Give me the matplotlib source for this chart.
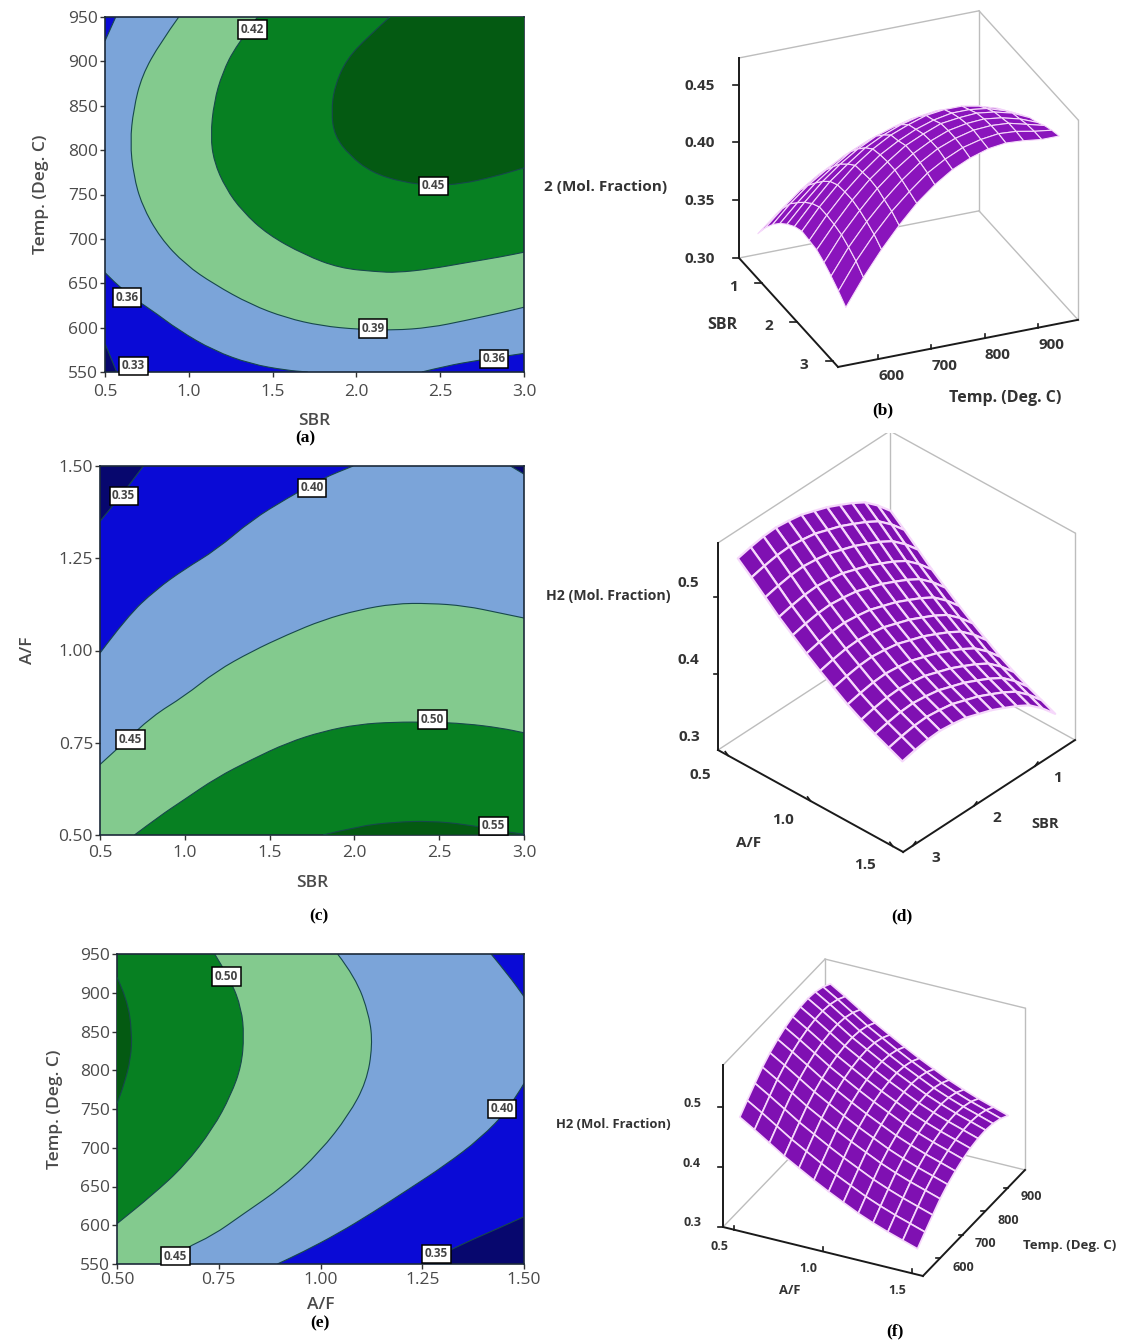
import numpy as np
import matplotlib
matplotlib.use('Agg')
import matplotlib.pyplot as plt
from matplotlib.lines import Line2D
from matplotlib.patches import PathPatch
from matplotlib.path import Path
from mpl_toolkits.mplot3d import proj3d

W, H = 1121, 1344

# contour colours, low to high
NAVY = '#07076e'
BLUE = '#0a0ad6'
SKY = '#7ba4d9'
MINT = '#83ca8e'
GREEN = '#078022'
DARK = '#045a12'
LINE = '#17484c'

# (a) Temp vs SBR, level boundaries
A_033 = [(0.50, 582), (0.57, 550)]
A_036L = [(0.50, 662), (0.62, 639), (0.77, 621), (0.94, 597), (1.15, 574), (1.37, 559), (1.58, 552), (1.71, 550)]
A_036R = [(2.39, 550), (2.54, 557), (2.72, 563), (3.00, 571)]
A_036T = [(0.50, 923), (0.564, 950)]
A_039 = [(0.94, 950), (0.83, 921), (0.72, 884), (0.67, 846), (0.65, 809), (0.67, 772), (0.72, 738), (0.83, 701),
         (0.98, 671), (1.15, 649), (1.37, 626), (1.58, 611), (1.79, 602), (2.01, 598), (2.22, 597), (2.44, 600),
         (2.65, 608), (2.87, 617), (3.00, 623)]
A_042 = [(1.41, 950), (1.28, 917), (1.20, 887), (1.15, 854), (1.13, 816), (1.15, 787), (1.22, 757), (1.32, 731),
         (1.47, 705), (1.69, 682), (1.90, 667), (2.12, 663), (2.24, 662), (2.44, 666), (2.65, 673), (2.87, 680),
         (3.00, 685)]
A_045 = [(2.20, 950), (2.07, 928), (1.94, 902), (1.87, 872), (1.85, 843), (1.87, 816), (1.96, 794), (2.09, 775),
         (2.27, 764), (2.46, 760), (2.63, 762), (2.82, 770), (3.00, 780)]
A_LABELS = [(1.38, 936, '0.42'), (2.46, 760, '0.45'), (2.10, 599, '0.39'), (0.63, 634, '0.36'), (0.67, 557, '0.33'),
            (2.82, 565, '0.36')]

# (c) A/F vs SBR
C_035 = [(0.50, 1.35), (0.62, 1.417), (0.756, 1.50)]
C_035R = [(2.92, 1.50), (3.00, 1.478)]
C_040 = [(0.50, 0.993), (0.66, 1.092), (0.83, 1.165), (0.997, 1.22), (1.186, 1.273), (1.396, 1.354), (1.605, 1.413),
         (1.815, 1.467), (1.993, 1.50)]
C_045 = [(0.50, 0.691), (0.62, 0.741), (0.808, 0.822), (0.997, 0.876), (1.186, 0.944), (1.396, 0.998), (1.605, 1.043),
         (1.815, 1.083), (2.025, 1.11), (2.235, 1.127), (2.445, 1.128), (2.654, 1.121), (2.864, 1.101), (3.00, 1.088)]
C_050 = [(0.703, 0.50), (0.85, 0.551), (0.997, 0.596), (1.186, 0.655), (1.396, 0.705), (1.605, 0.75), (1.815, 0.781),
         (2.025, 0.80), (2.235, 0.806), (2.445, 0.806), (2.654, 0.802), (2.864, 0.79), (3.00, 0.777)]
C_055 = [(1.815, 0.50), (2.025, 0.524), (2.235, 0.535), (2.445, 0.538), (2.654, 0.529), (2.864, 0.511), (3.00, 0.502)]
C_LABELS = [(0.64, 1.419, '0.35'), (1.75, 1.441, '0.40'), (0.68, 0.759, '0.45'), (2.46, 0.813, '0.50'),
            (2.82, 0.525, '0.55')]

# (e) Temp vs A/F
E_055 = [(0.50, 920), (0.525, 892), (0.537, 849), (0.534, 815), (0.517, 781), (0.50, 757)]
E_050 = [(0.74, 950), (0.78, 916), (0.806, 879), (0.812, 845), (0.806, 806), (0.78, 768), (0.736, 725), (0.666, 677),
         (0.587, 639), (0.50, 602)]
E_045 = [(1.042, 950), (1.086, 920), (1.12, 871), (1.128, 832), (1.113, 785), (1.069, 742), (0.999, 695), (0.911, 651),
         (0.806, 613), (0.736, 587), (0.666, 570), (0.62, 550)]
E_040T = [(1.419, 950), (1.463, 922), (1.50, 895)]
E_040B = [(1.50, 783), (1.463, 750), (1.393, 712), (1.305, 677), (1.218, 647), (1.13, 617), (1.042, 589), (0.955, 565),
          (0.894, 550)]
E_035 = [(1.50, 611), (1.437, 596), (1.349, 576), (1.25, 550)]
E_LABELS = [(0.769, 921, '0.50'), (0.644, 560, '0.45'), (1.446, 750, '0.40'), (1.285, 563, '0.35')]

# surface grids
T_GRID = [550, 583, 617, 650, 683, 717, 750, 783, 817, 850, 883, 917, 950]
SBR_GRID = [0.5, 0.71, 0.92, 1.13, 1.33, 1.54, 1.75, 1.96, 2.17, 2.38, 2.58, 2.79, 3.0]
AF_GRID = [0.5, 0.583, 0.667, 0.75, 0.833, 0.917, 1.0, 1.083, 1.167, 1.25, 1.333, 1.417, 1.5]

# (b) rows SBR, columns Temp
Z_B = [
    [.324, .337, .349, .359, .366, .372, .376, .378, .378, .376, .372, .366, .359],
    [.336, .350, .363, .373, .381, .387, .391, .394, .394, .392, .389, .383, .375],
    [.346, .361, .374, .384, .393, .400, .405, .407, .408, .407, .403, .398, .390],
    [.354, .369, .383, .394, .404, .411, .416, .419, .420, .419, .416, .410, .403],
    [.360, .376, .391, .403, .413, .421, .426, .430, .431, .430, .427, .422, .415],
    [.365, .382, .398, .410, .421, .429, .435, .439, .441, .440, .438, .433, .425],
    [.368, .386, .402, .416, .427, .436, .442, .447, .449, .449, .446, .441, .434],
    [.367, .386, .403, .417, .429, .438, .445, .450, .453, .453, .451, .446, .439],
    [.366, .385, .403, .418, .430, .441, .448, .454, .456, .457, .455, .451, .444],
    [.362, .383, .401, .417, .430, .441, .449, .455, .458, .459, .457, .453, .447],
    [.357, .379, .398, .414, .428, .440, .449, .455, .459, .460, .459, .455, .451],
    [.351, .374, .394, .411, .425, .438, .447, .454, .458, .460, .459, .456, .454],
    [.344, .367, .388, .406, .422, .435, .445, .452, .457, .459, .458, .456, .456],
]

# (d) rows SBR, columns A/F
Z_D = [
    [.482, .467, .451, .435, .421, .407, .394, .382, .370, .360, .351, .343, .335],
    [.500, .485, .469, .453, .439, .425, .412, .400, .388, .378, .369, .361, .353],
    [.515, .500, .484, .468, .454, .440, .427, .415, .403, .393, .384, .376, .368],
    [.525, .510, .494, .478, .464, .450, .437, .425, .413, .403, .394, .386, .378],
    [.533, .518, .502, .486, .472, .458, .445, .433, .421, .411, .402, .394, .386],
    [.541, .526, .510, .494, .480, .466, .453, .441, .429, .419, .410, .402, .394],
    [.547, .532, .516, .500, .486, .472, .459, .447, .435, .425, .416, .408, .400],
    [.553, .538, .522, .506, .492, .478, .465, .453, .441, .431, .422, .414, .406],
    [.556, .541, .525, .509, .495, .481, .468, .456, .444, .434, .425, .417, .409],
    [.558, .543, .527, .511, .497, .483, .470, .458, .446, .436, .427, .419, .411],
    [.557, .542, .526, .510, .496, .482, .469, .457, .445, .435, .426, .418, .410],
    [.554, .539, .523, .507, .493, .479, .466, .454, .442, .432, .423, .415, .407],
    [.550, .535, .519, .503, .489, .475, .462, .450, .438, .428, .419, .411, .403],
]

# (f) rows Temp, columns A/F
Z_F = [
    [.478, .463, .447, .431, .417, .403, .390, .378, .366, .356, .347, .339, .331],
    [.493, .478, .462, .446, .432, .418, .405, .393, .381, .371, .362, .354, .346],
    [.508, .493, .477, .461, .447, .433, .420, .408, .396, .386, .377, .369, .361],
    [.522, .507, .491, .475, .461, .447, .434, .422, .410, .400, .391, .383, .375],
    [.533, .518, .502, .486, .472, .458, .445, .433, .421, .411, .402, .394, .386],
    [.542, .527, .511, .495, .481, .467, .454, .442, .430, .420, .411, .403, .395],
    [.549, .534, .518, .502, .488, .474, .461, .449, .437, .427, .418, .410, .402],
    [.554, .539, .523, .507, .493, .479, .466, .454, .442, .432, .423, .415, .407],
    [.557, .542, .526, .510, .496, .482, .469, .457, .445, .435, .426, .418, .410],
    [.558, .543, .527, .511, .497, .483, .470, .458, .446, .436, .427, .419, .411],
    [.556, .541, .525, .509, .495, .481, .468, .456, .444, .434, .425, .417, .409],
    [.551, .536, .520, .504, .490, .476, .463, .451, .439, .429, .420, .412, .404],
    [.543, .528, .512, .496, .482, .468, .455, .443, .431, .421, .412, .404, .396],
]

SANS = ['Open Sans', 'DejaVu Sans']
plt.rcParams['font.family'] = SANS

fig = plt.figure(figsize=(W / 100, H / 100), dpi=100)


def px_text(x, y, s, **kw):
    kw.setdefault('ha', 'center')
    kw.setdefault('va', 'center')
    fig.text(x / W, 1 - y / H, s, **kw)


def contour_axes(left, top, right, bottom):
    ax = fig.add_axes([left / W, 1 - bottom / H, (right - left) / W, (bottom - top) / H])
    ax.set_facecolor(SKY)
    return ax


def curve(pts):
    # quadratic pieces with the read points as controls, so the boundary has no kinks
    verts = [pts[0]]
    codes = [Path.MOVETO]
    for p, q in zip(pts[1:-1], pts[2:]):
        mid = ((p[0] + q[0]) / 2, (p[1] + q[1]) / 2)
        verts += [p, mid]
        codes += [Path.CURVE3, Path.CURVE3]
    verts.append(pts[-1])
    codes.append(Path.LINETO)
    return verts, codes


def band(ax, pts, corners, color, z=1):
    verts, codes = curve(pts)
    closed = verts + list(corners) + [pts[0]]
    closed_codes = codes + [Path.LINETO] * len(corners) + [Path.CLOSEPOLY]
    ax.add_patch(PathPatch(Path(closed, closed_codes), fc=color, ec='none', lw=0, zorder=z))
    ax.add_patch(PathPatch(Path(verts, codes), fc='none', ec=LINE, lw=0.8, zorder=z + 0.5))


def finish(ax, labels, xlim, ylim, xticks, yticks, xfmt, yfmt, xlabel, ylabel, xpad, xlabelpad, ylabelpad):
    ax.set_xlim(xlim)
    ax.set_ylim(ylim)
    ax.set_xticks(xticks, [xfmt % v for v in xticks])
    ax.set_yticks(yticks, [yfmt % v for v in yticks])
    ax.tick_params(labelsize=12.5, labelcolor='#4a4a4a', length=3.5, width=1, pad=1.5, color='#333333')
    ax.tick_params(axis='x', pad=xpad)
    ax.set_xlabel(xlabel, fontsize=12.5, color='#4a4a4a', fontweight='semibold', labelpad=xlabelpad)
    ax.set_ylabel(ylabel, fontsize=12.5, color='#4a4a4a', fontweight='semibold', labelpad=ylabelpad)
    for s in ax.spines.values():
        s.set_color('#1c2a3a')
        s.set_linewidth(1.2)
    for x, y, s in labels:
        ax.text(x, y, s, ha='center', va='center', fontsize=8.5, color='#444444', fontweight='bold', zorder=10,
                bbox=dict(boxstyle='square,pad=0.22', fc='white', ec='black', lw=1.1))


# (a)
ax = contour_axes(105, 17, 524, 372)
band(ax, A_036L, [(0.5, 550)], BLUE)
band(ax, A_036R, [(3.0, 550)], BLUE)
band(ax, A_036T, [(0.5, 950)], BLUE)
band(ax, A_033, [(0.5, 550)], NAVY, 2)
band(ax, A_039, [(3.0, 950)], MINT)
band(ax, A_042, [(3.0, 950)], GREEN, 2)
band(ax, A_045, [(3.0, 950)], DARK, 3)
finish(ax, A_LABELS, (0.5, 3.0), (550, 950), [0.5, 1.0, 1.5, 2.0, 2.5, 3.0], list(range(550, 951, 50)),
       '%.1f', '%d', 'SBR', 'Temp. (Deg. C)', 5.5, 9, 14)

# (c)
ax = contour_axes(100, 466, 524, 835)
band(ax, C_040, [(0.5, 1.5)], BLUE)
band(ax, C_035, [(0.5, 1.5)], NAVY, 2)
band(ax, C_035R, [(3.0, 1.5)], NAVY, 2)
band(ax, C_045, [(3.0, 0.5), (0.5, 0.5)], MINT)
band(ax, C_050, [(3.0, 0.5)], GREEN, 2)
band(ax, C_055, [], DARK, 3)
finish(ax, C_LABELS, (0.5, 3.0), (0.5, 1.5), [0.5, 1.0, 1.5, 2.0, 2.5, 3.0], [0.5, 0.75, 1.0, 1.25, 1.5],
       '%.1f', '%.2f', 'SBR', 'A/F', 3.5, 10, 16)

# (e)
ax = contour_axes(117, 954, 524, 1264)
band(ax, E_045, [(0.5, 550), (0.5, 950)], MINT)
band(ax, E_050, [(0.5, 950)], GREEN, 2)
band(ax, E_055, [], DARK, 3)
band(ax, E_040T, [(1.5, 950)], BLUE)
band(ax, E_040B, [(1.5, 550)], BLUE)
band(ax, E_035, [(1.5, 550)], NAVY, 2)
finish(ax, E_LABELS, (0.5, 1.5), (550, 950), [0.5, 0.75, 1.0, 1.25, 1.5], list(range(550, 951, 50)),
       '%.2f', '%d', 'A/F', 'Temp. (Deg. C)', 2.5, 6, 12)


def to_px(ax, x, y, z):
    X, Y, _ = proj3d.proj_transform(x, y, z, ax.get_proj())
    px = ax.transData.transform((X, Y))
    return px[0], H - px[1]


def surface_axes(xs, ys, zs, xlim, ylim, zlim, aspect, elev, azim, floor, t_left, t_right, mesh_lw, face):
    # floor = left, front, right, back corners as (x, y) on the limits
    ax = fig.add_axes([0.5, 0.1, 400 / W, 400 / H], projection='3d', proj_type='ortho', computed_zorder=False)
    ax.patch.set_alpha(0)
    ax.set_xlim(xlim)
    ax.set_ylim(ylim)
    ax.set_zlim(zlim)
    ax.set_box_aspect(aspect)
    ax.view_init(elev=elev, azim=azim)
    ax.set_axis_off()
    left, front, right, back = floor
    side = 400.0
    x0, y0 = 500.0, 500.0
    # move and scale the square axes until the box corners land where they should
    for _ in range(3):
        ax.set_position([x0 / W, 1 - (y0 + side) / H, side / W, side / H])
        ax.apply_aspect()
        a = np.array(to_px(ax, left[0], left[1], zlim[0]))
        b = np.array(to_px(ax, right[0], right[1], zlim[0]))
        k = np.linalg.norm(np.array(t_right) - np.array(t_left)) / np.linalg.norm(b - a)
        side *= k
        ax.set_position([x0 / W, 1 - (y0 + side) / H, side / W, side / H])
        ax.apply_aspect()
        a = np.array(to_px(ax, left[0], left[1], zlim[0]))
        x0 += t_left[0] - a[0]
        y0 += t_left[1] - a[1]
    ax.set_position([x0 / W, 1 - (y0 + side) / H, side / W, side / H])
    ax.apply_aspect()

    zb, zt = zlim
    grey = dict(color='#bdbdbd', lw=1.0, zorder=1)
    for p, q in [(left, back), (back, right)]:
        ax.plot([p[0], q[0]], [p[1], q[1]], [zb, zb], **grey)
        ax.plot([p[0], q[0]], [p[1], q[1]], [zt, zt], **grey)
    for p in (back, right):
        ax.plot([p[0], p[0]], [p[1], p[1]], [zb, zt], **grey)
    X, Y = np.meshgrid(xs, ys)
    ax.plot_surface(X, Y, np.array(zs), rstride=1, cstride=1, color=face, edgecolor='#f6d8fb', linewidth=mesh_lw,
                    shade=False, antialiased=True, zorder=2)
    dark = dict(color='#1a1a1a', lw=1.4, zorder=3)
    ax.plot([left[0], left[0]], [left[1], left[1]], [zb, zt], **dark)
    for p, q in [(left, front), (front, right)]:
        ax.plot([p[0], q[0]], [p[1], q[1]], [zb, zb], **dark)
    return ax


def ticks(ax, pts, labels, tick_off, label_off, size=11):
    for (x, y, z), s in zip(pts, labels):
        px, py = to_px(ax, x, y, z)
        fig.add_artist(Line2D([px / W, (px + tick_off[0]) / W], [1 - py / H, 1 - (py + tick_off[1]) / H],
                              color='#1a1a1a', lw=1.2, transform=fig.transFigure))
        px_text(px + label_off[0], py + label_off[1], s, fontsize=size, fontweight='bold', color='#333333')


# (b)
xl, yl, zl = (525, 975), (3.156, 0.344), (0.30, 0.473)
ax = surface_axes(T_GRID, SBR_GRID, Z_B, xl, yl, zl, (260.5, 254.4, 225.9), 27.7, -112.9,
                  [(525, 0.344), (525, 3.156), (975, 3.156), (975, 0.344)], (739, 258), (1078, 320), 0.8, '#8a14bc')
ticks(ax, [(525, 0.344, v) for v in (0.30, 0.35, 0.40, 0.45)], ['0.30', '0.35', '0.40', '0.45'], (-6, 0), (-39, 1))
ticks(ax, [(525, v, 0.30) for v in (1, 2, 3)], ['1', '2', '3'], (-7, 0), (-29, 4))
ticks(ax, [(v, 3.156, 0.30) for v in (600, 700, 800, 900)], ['600', '700', '800', '900'], (0, -4), (13, 17))
px_text(606, 187, '2 (Mol. Fraction)', fontsize=11, fontweight='bold', color='#333333')
px_text(722, 325, 'SBR', fontsize=11.5, fontweight='bold', color='#333333')
px_text(1005, 398, 'Temp. (Deg. C)', fontsize=11.5, fontweight='bold', color='#333333')

# (d)
xl, yl, zl = (0.4375, 1.5625), (3.156, 0.344), (0.30, 0.571)
ax = surface_axes(AF_GRID, SBR_GRID, Z_D, xl, yl, zl, (251.6, 254.0, 258.7), 36.8, -47.4,
                  [(0.4375, 3.156), (1.5625, 3.156), (1.5625, 0.344), (0.4375, 0.344)], (718, 750), (1075, 740),
                  1.6, '#7f10b2')
ticks(ax, [(0.4375, 3.156, v) for v in (0.4, 0.5)], ['0.4', '0.5'], (-4, 0), (-30, -14))
px_text(689, 737, '0.3', fontsize=11, fontweight='bold', color='#333333')
ticks(ax, [(v, 3.156, 0.30) for v in (0.5, 1.0, 1.5)], ['0.5', '1.0', '1.5'], (-3, -4), (-28, 19))
ticks(ax, [(1.5625, v, 0.30) for v in (1, 2, 3)], ['1', '2', '3'], (3, -4), (23, 12))
px_text(608, 596, 'H2 (Mol. Fraction)', fontsize=10.2, fontweight='bold', color='#333333')
px_text(749, 843, 'A/F', fontsize=11, fontweight='bold', color='#333333')
px_text(1045, 824, 'SBR', fontsize=10.5, fontweight='bold', color='#333333')

# (f)
xl, yl, zl = (0.4375, 1.5625), (525, 975), (0.30, 0.57)
ax = surface_axes(AF_GRID, T_GRID, Z_F, xl, yl, zl, (222.4, 233.8, 187.6), 30.3, -64.1,
                  [(0.4375, 525), (1.5625, 525), (1.5625, 975), (0.4375, 975)], (723, 1227), (1025, 1170),
                  1.2, '#7f10b2')
ticks(ax, [(0.4375, 525, v) for v in (0.3, 0.4, 0.5)], ['0.3', '0.4', '0.5'], (-5, 0), (-31, -4), 9)
ticks(ax, [(v, 525, 0.30) for v in (0.5, 1.0, 1.5)], ['0.5', '1.0', '1.5'], (0, -4), (-15, 17), 9)
ticks(ax, [(1.5625, v, 0.30) for v in (600, 700, 800, 900)], ['600', '700', '800', '900'], (-4, 0), (23, 9), 9)
px_text(613, 1125, 'H2 (Mol. Fraction)', fontsize=9.4, fontweight='bold', color='#333333')
px_text(790, 1291, 'A/F', fontsize=9.4, fontweight='bold', color='#333333')
px_text(1070, 1246, 'Temp. (Deg. C)', fontsize=9.5, fontweight='bold', color='#333333')

# panel letters
for x, y, s in [(305, 438, '(a)'), (883, 410, '(b)'), (319, 916, '(c)'), (902, 916, '(d)'), (320, 1323, '(e)'),
                (895, 1331, '(f)')]:
    px_text(x, y, s, fontsize=12.5, fontweight='bold', family='Liberation Serif', color='black')

fig.savefig('out.png', dpi=100)
